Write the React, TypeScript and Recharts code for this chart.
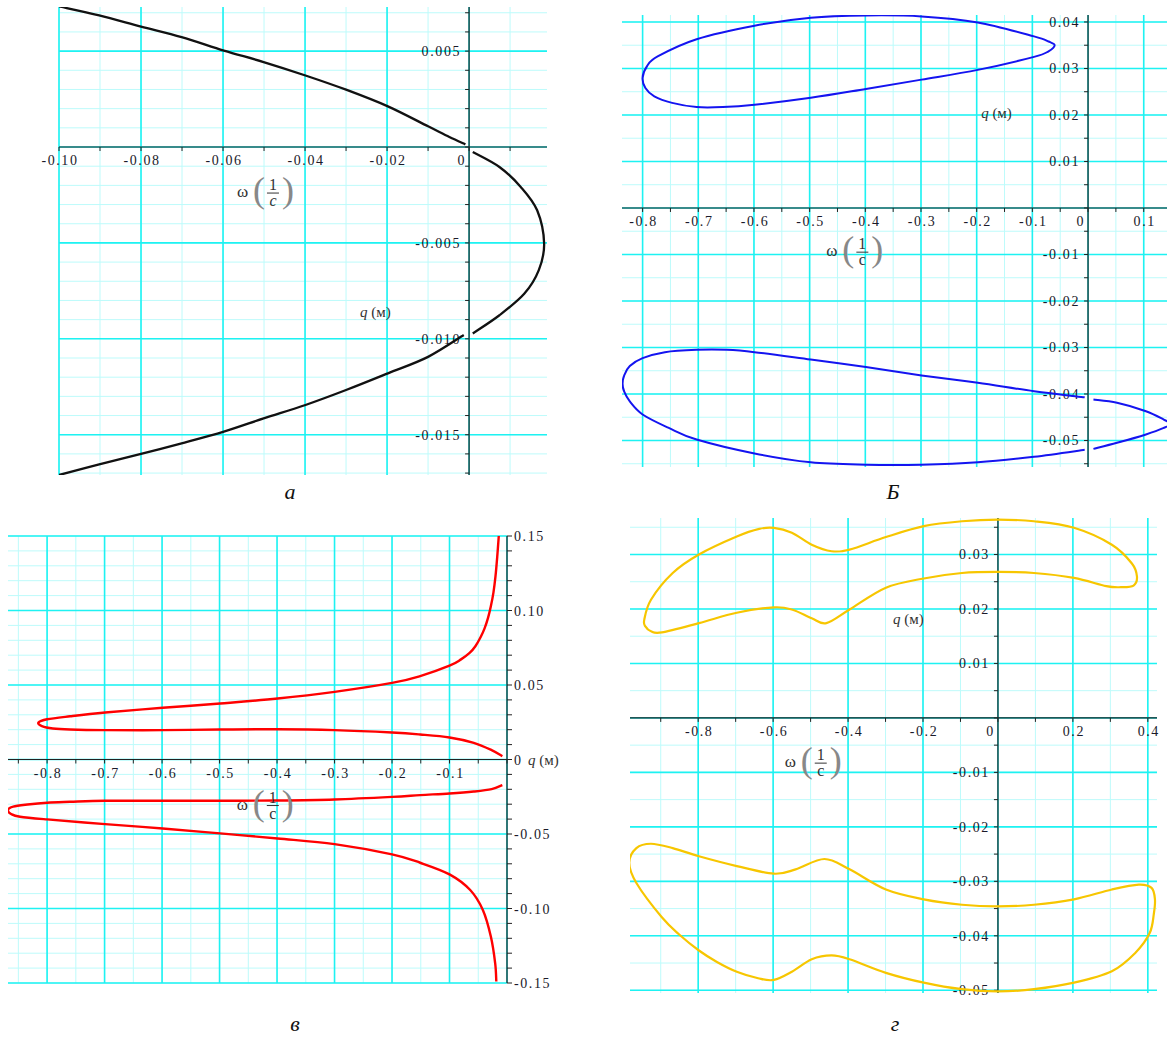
import { ScatterChart, Scatter, XAxis, YAxis, CartesianGrid, ReferenceLine, ReferenceDot } from 'recharts';

type Pt = [number, number];

// ---- panel "а": black parabola-like trajectory ----
const curveA1: Pt[] = [
  [-0.1, 0.00733], [-0.0902, 0.00686], [-0.08, 0.00628], [-0.0701, 0.00573], [-0.0598, 0.00503],
  [-0.0501, 0.00443], [-0.0399, 0.00373], [-0.03, 0.00299], [-0.0198, 0.00212], [-0.01, 0.00108],
  [-0.0048, 0.00052], [-0.0009, 0.00014],
];
const curveA2: Pt[] = [
  [0.0009, -0.00026], [0.0074, -0.00104], [0.0126, -0.00208], [0.0166, -0.0033], [0.0183, -0.00503],
  [0.017, -0.00642], [0.0135, -0.00764], [0.0074, -0.00877], [0.0009, -0.00972],
];
const curveA3: Pt[] = [
  [-0.0013, -0.0098], [-0.01, -0.01094], [-0.0198, -0.0118], [-0.03, -0.01267], [-0.0399, -0.01345],
  [-0.0501, -0.01415], [-0.0598, -0.01484], [-0.0701, -0.01545], [-0.08, -0.016], [-0.0902, -0.01655],
  [-0.1, -0.0171],
];
const labelsAx: [number, string][] = [[-0.1, '-0.10'], [-0.08, '-0.08'], [-0.06, '-0.06'], [-0.04, '-0.04'], [-0.02, '-0.02'], [0, '0']];
const labelsAy: [number, string][] = [[0.005, '0.005'], [-0.005, '-0.005'], [-0.01, '-0.010'], [-0.015, '-0.015']];

// ---- panel "Б": two blue loops ----
const curveB1: Pt[] = [
  [-0.8, 0.028], [-0.792, 0.0305], [-0.773, 0.0326], [-0.703, 0.0363], [-0.599, 0.0392], [-0.498, 0.0409],
  [-0.399, 0.0414], [-0.299, 0.0412], [-0.198, 0.0399], [-0.097, 0.0369], [-0.071, 0.0358], [-0.06, 0.035],
  [-0.071, 0.0337], [-0.097, 0.0325], [-0.198, 0.0297], [-0.299, 0.0276], [-0.399, 0.0256], [-0.498, 0.0237],
  [-0.599, 0.0222], [-0.656, 0.0217], [-0.703, 0.0217], [-0.747, 0.0226], [-0.779, 0.024], [-0.795, 0.0258],
  [-0.8, 0.028],
];
const curveB2: Pt[] = [
  [-0.006, -0.0407], [-0.097, -0.0394], [-0.198, -0.0376], [-0.299, -0.036], [-0.399, -0.0342], [-0.498, -0.0326],
  [-0.599, -0.031], [-0.649, -0.0305], [-0.703, -0.0305], [-0.76, -0.031], [-0.8, -0.0323], [-0.823, -0.034],
  [-0.833, -0.036], [-0.836, -0.0378], [-0.833, -0.0395], [-0.823, -0.0416], [-0.8, -0.0444], [-0.753, -0.0473],
  [-0.703, -0.0498], [-0.599, -0.0528], [-0.498, -0.0547], [-0.399, -0.0552], [-0.299, -0.0552], [-0.198, -0.0547],
  [-0.097, -0.0535], [-0.006, -0.052],
];
const curveB3: Pt[] = [
  [0.0097, -0.0412], [0.052, -0.0419], [0.104, -0.0437], [0.136, -0.0455], [0.148, -0.0464],
  [0.136, -0.0473], [0.104, -0.0487], [0.052, -0.0505], [0.0097, -0.0518],
];
const labelsBx: [number, string][] = [[-0.8, '-0.8'], [-0.7, '-0.7'], [-0.6, '-0.6'], [-0.5, '-0.5'], [-0.4, '-0.4'], [-0.3, '-0.3'], [-0.2, '-0.2'], [-0.1, '-0.1'], [0, '0'], [0.1, '0.1']];
const labelsBy: [number, string][] = [[0.04, '0.04'], [0.03, '0.03'], [0.02, '0.02'], [0.01, '0.01'], [-0.01, '-0.01'], [-0.02, '-0.02'], [-0.03, '-0.03'], [-0.04, '-0.04'], [-0.05, '-0.05']];

// ---- panel "в": red branches ----
const curveC1: Pt[] = [
  [-0.0143, 0.15], [-0.017, 0.136], [-0.02, 0.123], [-0.0236, 0.112], [-0.028, 0.103], [-0.033, 0.095],
  [-0.039, 0.088], [-0.046, 0.082], [-0.055, 0.076], [-0.065, 0.0715], [-0.08, 0.0672], [-0.1, 0.063],
  [-0.151, 0.056], [-0.2, 0.0514], [-0.3, 0.0454], [-0.399, 0.0409],
  [-0.499, 0.0376], [-0.599, 0.0347], [-0.699, 0.0315], [-0.76, 0.029], [-0.8, 0.027], [-0.815, 0.0248],
  [-0.809, 0.0224], [-0.79, 0.0208], [-0.76, 0.0201], [-0.699, 0.0197], [-0.599, 0.0197], [-0.499, 0.0201],
  [-0.399, 0.0203], [-0.3, 0.0197], [-0.2, 0.0181], [-0.151, 0.0168], [-0.1, 0.0148], [-0.0578, 0.0112],
  [-0.0267, 0.0063], [-0.0081, 0.0022],
];
const curveC2: Pt[] = [
  [-0.0081, -0.0172], [-0.0267, -0.0199], [-0.0578, -0.0215], [-0.1, -0.0228], [-0.151, -0.0239], [-0.2, -0.0251],
  [-0.3, -0.0268], [-0.399, -0.0275], [-0.499, -0.0277], [-0.599, -0.0277], [-0.699, -0.0277], [-0.76, -0.0284],
  [-0.8, -0.029], [-0.834, -0.0302], [-0.859, -0.0316], [-0.868, -0.0339], [-0.862, -0.0367], [-0.847, -0.0384],
  [-0.8, -0.0402], [-0.699, -0.0434], [-0.599, -0.0463], [-0.499, -0.0496], [-0.399, -0.053], [-0.3, -0.0568],
  [-0.2, -0.0637], [-0.151, -0.0693], [-0.1, -0.0771], [-0.064, -0.0876], [-0.042, -0.101], [-0.028, -0.119],
  [-0.0205, -0.137], [-0.0186, -0.149],
];
const labelsCx: [number, string][] = [[-0.8, '-0.8'], [-0.7, '-0.7'], [-0.6, '-0.6'], [-0.5, '-0.5'], [-0.4, '-0.4'], [-0.3, '-0.3'], [-0.2, '-0.2'], [-0.1, '-0.1']];
const labelsCy: [number, string][] = [[0.15, '0.15'], [0.1, '0.10'], [0.05, '0.05'], [0, '0'], [-0.05, '-0.05'], [-0.1, '-0.10'], [-0.15, '-0.15']];

// ---- panel "г": two yellow loops ----
const curveD1: Pt[] = [
  [-0.944, 0.018], [-0.926, 0.0217], [-0.868, 0.0266], [-0.798, 0.03], [-0.697, 0.0333], [-0.637, 0.0347],
  [-0.598, 0.0349], [-0.55, 0.034], [-0.497, 0.0318], [-0.444, 0.0306], [-0.396, 0.0309], [-0.299, 0.0332],
  [-0.198, 0.0352], [-0.096, 0.0361], [0, 0.0364], [0.096, 0.0361], [0.203, 0.0349], [0.304, 0.0318],
  [0.357, 0.0284], [0.371, 0.026], [0.362, 0.0243], [0.328, 0.024], [0.289, 0.0242], [0.203, 0.0257],
  [0.096, 0.0266], [0, 0.0268], [-0.096, 0.0266], [-0.198, 0.0256], [-0.299, 0.0239], [-0.396, 0.0199],
  [-0.458, 0.0174], [-0.497, 0.0183], [-0.55, 0.0199], [-0.598, 0.0203], [-0.697, 0.0193], [-0.798, 0.0174],
  [-0.897, 0.0157], [-0.926, 0.0159], [-0.941, 0.0168], [-0.944, 0.018],
];
const curveD2: Pt[] = [
  [-0.984, -0.0266], [-0.965, -0.0239], [-0.926, -0.0231], [-0.868, -0.0239], [-0.798, -0.0254], [-0.697, -0.0272],
  [-0.598, -0.0286], [-0.54, -0.0278], [-0.463, -0.0259], [-0.396, -0.0278], [-0.299, -0.0315], [-0.198, -0.0333],
  [-0.096, -0.0343], [0, -0.0346], [0.096, -0.0343], [0.203, -0.0333], [0.304, -0.0315], [0.376, -0.0306],
  [0.41, -0.0312], [0.419, -0.0333], [0.416, -0.036], [0.405, -0.0395], [0.367, -0.0431], [0.304, -0.0465],
  [0.203, -0.0486], [0.096, -0.0498], [0, -0.0502], [-0.096, -0.0498], [-0.198, -0.0486], [-0.299, -0.0468],
  [-0.396, -0.0443], [-0.444, -0.0436], [-0.497, -0.0443], [-0.55, -0.0466], [-0.598, -0.0481], [-0.64, -0.0478],
  [-0.697, -0.0466], [-0.75, -0.0448], [-0.798, -0.0427], [-0.85, -0.0398], [-0.897, -0.0366], [-0.965, -0.0303],
  [-0.984, -0.0266],
];
const labelsDx: [number, string][] = [[-0.8, '-0.8'], [-0.6, '-0.6'], [-0.4, '-0.4'], [-0.2, '-0.2'], [0, '0'], [0.2, '0.2'], [0.4, '0.4']];
const labelsDy: [number, string][] = [[0.03, '0.03'], [0.02, '0.02'], [0.01, '0.01'], [-0.01, '-0.01'], [-0.02, '-0.02'], [-0.03, '-0.03'], [-0.04, '-0.04'], [-0.05, '-0.05']];

const MARGIN = { top: 24, right: 90, bottom: 40, left: 30 };
const MAJOR = '#1ef2f2';
const MINOR = '#bdfbfb';
const FONT = '"Liberation Serif", "Times New Roman", serif';
const TXT = '#1a1a2a';

function steps(from: number, to: number, step: number): number[] {
  const out: number[] = [];
  const n = Math.round((to - from) / step);
  for (let i = 0; i <= n; i++) out.push(Math.round((from + i * step) * 1e6) / 1e6);
  return out;
}

// Catmull-Rom through the points; wraps around when the path is closed
function smoothCurve(context: any) {
  let pts: Pt[] = [];
  return {
    areaStart() {},
    areaEnd() {},
    lineStart() { pts = []; },
    point(x: number, y: number) { pts.push([+x, +y]); },
    lineEnd() {
      const n = pts.length;
      if (!n) return;
      context.moveTo(pts[0][0], pts[0][1]);
      const closed = n > 3 && Math.abs(pts[0][0] - pts[n - 1][0]) < 0.5 && Math.abs(pts[0][1] - pts[n - 1][1]) < 0.5;
      for (let i = 0; i < n - 1; i++) {
        const p0 = i > 0 ? pts[i - 1] : closed ? pts[n - 2] : pts[0];
        const p1 = pts[i];
        const p2 = pts[i + 1];
        const p3 = i + 2 < n ? pts[i + 2] : closed ? pts[1] : pts[n - 1];
        context.bezierCurveTo(
          p1[0] + (p2[0] - p0[0]) / 6, p1[1] + (p2[1] - p0[1]) / 6,
          p2[0] - (p3[0] - p1[0]) / 6, p2[1] - (p3[1] - p1[1]) / 6,
          p2[0], p2[1],
        );
      }
    },
  };
}

interface Panel {
  left: number; top: number; width: number; height: number;
  xDomain: [number, number]; yDomain: [number, number];
  xMajor: number[]; xMinor: number[]; yMajor: number[]; yMinor: number[];
  xTicks: number[]; yTicks: number[];
  xLabels: [number, string][]; yLabels: [number, string][];
  yRight?: boolean;
  curves: Pt[][]; color: string; strokeWidth: number;
  qAt: Pt; wAt: Pt; wItalic?: boolean;
  letter: string; letterAt: [number, number];
}

const panels: Panel[] = [
  {
    left: 59, top: 7, width: 488, height: 468,
    xDomain: [-0.1, 0.019], yDomain: [-0.0171, 0.0073],
    xMajor: steps(-0.1, 0, 0.02), xMinor: steps(-0.1, 0.01, 0.01),
    yMajor: steps(-0.015, 0.005, 0.005), yMinor: steps(-0.017, 0.007, 0.001),
    xTicks: steps(-0.1, 0.01, 0.01), yTicks: steps(-0.017, 0.007, 0.001),
    xLabels: labelsAx, yLabels: labelsAy,
    curves: [curveA1, curveA2, curveA3], color: '#111', strokeWidth: 2.3,
    qAt: [-0.0266, -0.00885], wAt: [-0.0566, -0.0024], wItalic: true,
    letter: 'а', letterAt: [290, 492],
  },
  {
    left: 622, top: 15, width: 545, height: 452,
    xDomain: [-0.837, 0.1418], yDomain: [-0.0557, 0.0415],
    xMajor: steps(-0.8, 0.1, 0.1), xMinor: steps(-0.8, 0.1, 0.05),
    yMajor: steps(-0.05, 0.04, 0.01), yMinor: steps(-0.055, 0.04, 0.005),
    xTicks: steps(-0.8, 0.1, 0.05), yTicks: steps(-0.055, 0.04, 0.005),
    xLabels: labelsBx, yLabels: labelsBy,
    curves: [curveB1, curveB2, curveB3], color: '#1414f0', strokeWidth: 2,
    qAt: [-0.192, 0.01935], wAt: [-0.47, -0.0095],
    letter: 'Б', letterAt: [893, 492],
  },
  {
    left: 8, top: 536, width: 499, height: 447,
    xDomain: [-0.868, 0], yDomain: [-0.15, 0.15],
    xMajor: steps(-0.8, 0, 0.1), xMinor: steps(-0.85, 0, 0.05),
    yMajor: steps(-0.15, 0.15, 0.05), yMinor: steps(-0.15, 0.15, 0.01),
    xTicks: steps(-0.85, 0, 0.05), yTicks: steps(-0.15, 0.15, 0.01),
    xLabels: labelsCx, yLabels: labelsCy, yRight: true,
    curves: [curveC1, curveC2], color: '#ff0000', strokeWidth: 2.4,
    qAt: [0.0366, -0.0034], wAt: [-0.47, -0.0309],
    letter: 'в', letterAt: [295, 1024],
  },
  {
    left: 630, top: 518, width: 527, height: 475,
    xDomain: [-0.982, 0.4245], yDomain: [-0.0505, 0.0367],
    xMajor: steps(-0.8, 0.4, 0.2), xMinor: steps(-0.9, 0.4, 0.1),
    yMajor: steps(-0.05, 0.03, 0.01), yMinor: steps(-0.05, 0.035, 0.005),
    xTicks: steps(-0.9, 0.4, 0.1), yTicks: steps(-0.05, 0.035, 0.005),
    xLabels: labelsDx, yLabels: labelsDy,
    curves: [curveD1, curveD2], color: '#f7c600', strokeWidth: 2.2,
    qAt: [-0.28, 0.01725], wAt: [-0.569, -0.0083],
    letter: 'г', letterAt: [895, 1024],
  },
];

// ω(1/c) drawn from its left edge (x) and vertical middle (y)
function OmegaLabel({ x, y, italic }: { x: number; y: number; italic?: boolean }) {
  return (
    <g fontFamily={FONT} fill="#333">
      <text x={x} y={y + 4} fontSize={17}>ω</text>
      <text x={x + 16} y={y + 9} fontSize={36} fill="#888">(</text>
      <text x={x + 36} y={y - 3} fontSize={16} textAnchor="middle">1</text>
      <line x1={x + 30} x2={x + 42} y1={y} y2={y} stroke="#333" strokeWidth={1} />
      <text x={x + 36} y={y + 13} fontSize={16} textAnchor="middle" fontStyle={italic ? 'italic' : 'normal'}>c</text>
      <text x={x + 45} y={y + 9} fontSize={36} fill="#888">)</text>
    </g>
  );
}

function PhasePanel({ p }: { p: Panel }) {
  const ax = { xAxisId: 'major', yAxisId: 'major' };
  const textProps = { fontFamily: FONT, fontSize: 14, letterSpacing: 1.6, fill: TXT };
  return (
    <div style={{ position: 'absolute', left: p.left - MARGIN.left, top: p.top - MARGIN.top }}>
      <ScatterChart
        width={p.width + MARGIN.left + MARGIN.right}
        height={p.height + MARGIN.top + MARGIN.bottom}
        margin={MARGIN}
      >
        <XAxis xAxisId="minor" type="number" dataKey="x" domain={p.xDomain} ticks={p.xMinor} interval={0} allowDataOverflow hide />
        <XAxis xAxisId="major" type="number" dataKey="x" domain={p.xDomain} ticks={p.xMajor} interval={0} allowDataOverflow hide />
        <YAxis yAxisId="minor" type="number" dataKey="y" domain={p.yDomain} ticks={p.yMinor} interval={0} allowDataOverflow hide />
        <YAxis yAxisId="major" type="number" dataKey="y" domain={p.yDomain} ticks={p.yMajor} interval={0} allowDataOverflow hide />
        <CartesianGrid xAxisId="minor" yAxisId="minor" stroke={MINOR} strokeWidth={1} syncWithTicks />
        <CartesianGrid xAxisId="major" yAxisId="major" stroke={MAJOR} strokeWidth={1.6} syncWithTicks />
        <ReferenceLine {...ax} x={0} stroke="#222" strokeWidth={1.2} />
        <ReferenceLine {...ax} y={0} stroke="#222" strokeWidth={1.2} />
        {p.xTicks.map(v => (
          <ReferenceDot key={'xt' + v} {...ax} x={v} y={0} r={0} ifOverflow="visible"
            shape={(s: any) => <line x1={s.cx} y1={s.cy} x2={s.cx} y2={s.cy + 4} stroke="#222" />} />
        ))}
        {p.yTicks.map(v => (
          <ReferenceDot key={'yt' + v} {...ax} x={0} y={v} r={0} ifOverflow="visible"
            shape={(s: any) => <line x1={s.cx} y1={s.cy} x2={s.cx + (p.yRight ? 5 : -4)} y2={s.cy} stroke="#222" />} />
        ))}
        {p.xLabels.map(([v, t]) => (
          <ReferenceDot key={'xl' + v} {...ax} x={v} y={0} r={0} ifOverflow="visible"
            shape={(s: any) => (
              <text x={v === 0 ? s.cx - 3 : s.cx + 1} y={s.cy + 18} textAnchor={v === 0 ? 'end' : 'middle'} {...textProps}>{t}</text>
            )} />
        ))}
        {p.yLabels.map(([v, t]) => (
          <ReferenceDot key={'yl' + v} {...ax} x={0} y={v} r={0} ifOverflow="visible"
            shape={(s: any) => (
              <text x={p.yRight ? s.cx + 7 : s.cx - 8} y={s.cy + 5} textAnchor={p.yRight ? 'start' : 'end'} {...textProps}>{t}</text>
            )} />
        ))}
        {p.curves.map((c, i) => (
          <Scatter key={'c' + i} {...ax} data={c.map(([x, y]) => ({ x, y }))}
            line={{ stroke: p.color, strokeWidth: p.strokeWidth }} lineType="joint" lineJointType={smoothCurve as any}
            shape={() => <g />} isAnimationActive={false} />
        ))}
        <ReferenceDot {...ax} x={p.qAt[0]} y={p.qAt[1]} r={0} ifOverflow="visible"
          shape={(s: any) => (
            <text x={s.cx} y={s.cy} fontFamily={FONT} fontSize={15} fill="#333">
              <tspan fontStyle="italic">q</tspan> (м)
            </text>
          )} />
        <ReferenceDot {...ax} x={p.wAt[0]} y={p.wAt[1]} r={0} ifOverflow="visible"
          shape={(s: any) => <OmegaLabel x={s.cx} y={s.cy} italic={p.wItalic} />} />
      </ScatterChart>
    </div>
  );
}

export default function App() {
  return (
    <div style={{ position: 'absolute', left: 0, top: 0, width: 1167, height: 1039, overflow: 'hidden', background: '#fff' }}>
      {panels.map(p => <PhasePanel key={p.letter} p={p} />)}
      {panels.map(p => (
        <div key={'l' + p.letter} style={{
          position: 'absolute', left: p.letterAt[0] - 20, top: p.letterAt[1] - 14, width: 40,
          textAlign: 'center', fontFamily: FONT, fontStyle: 'italic', fontSize: 22, lineHeight: '28px', color: '#111',
        }}>{p.letter}</div>
      ))}
    </div>
  );
}
